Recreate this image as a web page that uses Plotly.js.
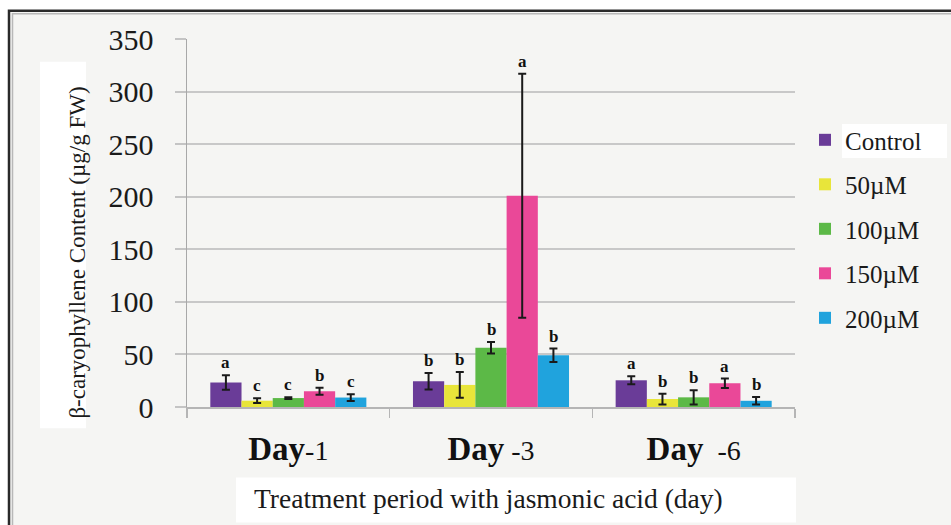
<!DOCTYPE html>
<html>
<head>
<meta charset="utf-8">
<script src="https://cdn.plot.ly/plotly-3.0.1.min.js"></script>
<style>
  html, body { margin: 0; padding: 0; background: #ffffff; }
  #chart { width: 951px; height: 525px; }
</style>
</head>
<body>
<div id="chart"></div>
<script>
// Treatment days (x categories) and their tick labels
const categories = ['Day-1', 'Day-3', 'Day-6'];
const tickLabels = [
  '<b>Day</b><span style="font-size:28px">-1</span>',
  '<b>Day</b><span style="font-size:28px">\u00a0-3</span>',
  '<b>Day</b><span style="font-size:28px">\u00a0\u00a0-6</span>'
];

// Jasmonic acid concentrations
const seriesNames = ['Control', '50\u00b5M', '100\u00b5M', '150\u00b5M', '200\u00b5M'];
const seriesColors = ['#6a3c98', '#e8e53a', '#5cb947', '#ea4898', '#20a3dd'];

// β-caryophyllene content (µg/g FW), mean per day
const controlVals = [23.3, 24.5, 25.4];
const jasm50Vals  = [6, 21, 7.5];
const jasm100Vals = [8.5, 56.4, 9.2];
const jasm150Vals = [15, 201, 22.6];
const jasm200Vals = [9, 49.2, 5.9];

// standard errors
const controlErr = [7, 7.9, 3.8];
const jasm50Err  = [2.3, 12.2, 5.2];
const jasm100Err = [0.8, 5.5, 6.8];
const jasm150Err = [3.3, 116, 4.5];
const jasm200Err = [3.2, 6.4, 3.6];

// significance letters
const controlSig = ['a', 'b', 'a'];
const jasm50Sig  = ['c', 'b', 'b'];
const jasm100Sig = ['c', 'b', 'b'];
const jasm150Sig = ['b', 'a', 'a'];
const jasm200Sig = ['c', 'b', 'b'];

const values = [controlVals, jasm50Vals, jasm100Vals, jasm150Vals, jasm200Vals];
const errs = [controlErr, jasm50Err, jasm100Err, jasm150Err, jasm200Err];
const sigs = [controlSig, jasm50Sig, jasm100Sig, jasm150Sig, jasm200Sig];

const serif = 'Liberation Serif, Times New Roman, serif';
const BARGAP = 0.23;
const nSeries = seriesNames.length;
const barUnit = (1 - BARGAP) / nSeries;

const traces = seriesNames.map((name, i) => ({
  type: 'bar',
  name: name,
  x: categories,
  y: values[i],
  marker: { color: seriesColors[i] },
  legendgroup: 'g' + i,
  error_y: {
    type: 'data', array: errs[i], visible: true,
    color: '#1a1a1a', thickness: 2, width: 4
  },
  hoverinfo: 'x+y+name'
}));

// letters above each error bar
const annotations = [];
seriesNames.forEach((name, i) => {
  categories.forEach((cat, g) => {
    annotations.push({
      x: g + (i - (nSeries - 1) / 2) * barUnit,
      y: values[i][g] + errs[i][g],
      xref: 'x', yref: 'y',
      text: '<b>' + sigs[i][g] + '</b>',
      showarrow: false,
      yanchor: 'bottom',
      yshift: 1,
      font: { family: serif, size: 17, color: '#111' }
    });
  });
});

// plot area in pixels: x 187..795, y 39..407
const L = 187, R = 795, T = 39.2, B = 406.7;
const px = v => (v - L) / (R - L);
const py = v => (B - v) / (B - T);

// y-axis title on a white panel
annotations.push({
  xref: 'paper', yref: 'paper',
  x: px(63), y: py(253),
  text: '\u03b2-caryophyllene Content (\u00b5g/g FW)',
  textangle: -90,
  showarrow: false,
  font: { family: serif, size: 23, color: '#1a1a1a' }
});

// x-axis title on a white panel
annotations.push({
  xref: 'paper', yref: 'paper',
  x: px(252), y: py(498),
  xanchor: 'left', yanchor: 'middle',
  text: 'Treatment period with jasmonic acid (day)',
  showarrow: false,
  font: { family: serif, size: 27.5, color: '#1a1a1a' }
});

const shapes = [
  // outer frame
  { type: 'rect', xref: 'paper', yref: 'paper', layer: 'below',
    x0: px(9), x1: px(975), y0: py(11), y1: py(560),
    fillcolor: '#f5f5f3', line: { color: '#2a2a2a', width: 2.5 } },
  { type: 'rect', xref: 'paper', yref: 'paper', layer: 'below',
    x0: px(12.5), x1: px(975), y0: py(14), y1: py(560),
    fillcolor: 'rgba(0,0,0,0)', line: { color: '#b8b8b8', width: 1.5 } },
  // white panel behind y title
  { type: 'rect', xref: 'paper', yref: 'paper', layer: 'below',
    x0: px(40), x1: px(86), y0: py(62), y1: py(428),
    fillcolor: '#ffffff', line: { width: 0 } },
  // white panel behind x title
  { type: 'rect', xref: 'paper', yref: 'paper', layer: 'below',
    x0: px(236), x1: px(796), y0: py(477), y1: py(522),
    fillcolor: '#ffffff', line: { width: 0 } },
  // white panel behind the "Control" legend text
  { type: 'rect', xref: 'paper', yref: 'paper', layer: 'below',
    x0: px(842), x1: px(947), y0: py(124), y1: py(158),
    fillcolor: '#ffffff', line: { width: 0 } }
];

const layout = {
  width: 951, height: 525,
  margin: { l: L, r: 951 - R, t: T, b: 525 - B, pad: 0 },
  paper_bgcolor: '#ffffff',
  plot_bgcolor: 'rgba(0,0,0,0)',
  barmode: 'group',
  bargap: BARGAP,
  bargroupgap: 0,
  font: { family: serif, color: '#1a1a1a' },
  xaxis: {
    type: 'category',
    tickvals: categories,
    ticktext: tickLabels,
    tickfont: { family: serif, size: 33, color: '#111' },
    tickson: 'boundaries',
    ticks: 'outside', ticklen: 9, tickcolor: '#b5b5b5', tickwidth: 1.5,
    showline: true, linecolor: '#b5b5b5', linewidth: 1.5,
    showgrid: false, zeroline: false,
    ticklabelstandoff: 12
  },
  yaxis: {
    range: [0, 350],
    tickvals: [0, 50, 100, 150, 200, 250, 300, 350],
    tickfont: { family: serif, size: 30, color: '#1a1a1a' },
    ticks: 'outside', ticklen: 11, tickcolor: '#c4c4c4', tickwidth: 2,
    showline: true, linecolor: '#a8a8a8', linewidth: 1.5,
    showgrid: true, gridcolor: '#c8c8c8', gridwidth: 2,
    zeroline: false,
    ticklabelstandoff: 15
  },
  legend: {
    x: px(805), y: py(229),
    xanchor: 'left', yanchor: 'middle',
    bgcolor: 'rgba(0,0,0,0)',
    font: { family: serif, size: 25, color: '#1a1a1a' },
    traceorder: 'grouped',
    tracegroupgap: 9
  },
  showlegend: true,
  annotations: annotations,
  shapes: shapes
};

Plotly.newPlot('chart', traces, layout, { displayModeBar: false, staticPlot: true });
</script>
</body>
</html>
